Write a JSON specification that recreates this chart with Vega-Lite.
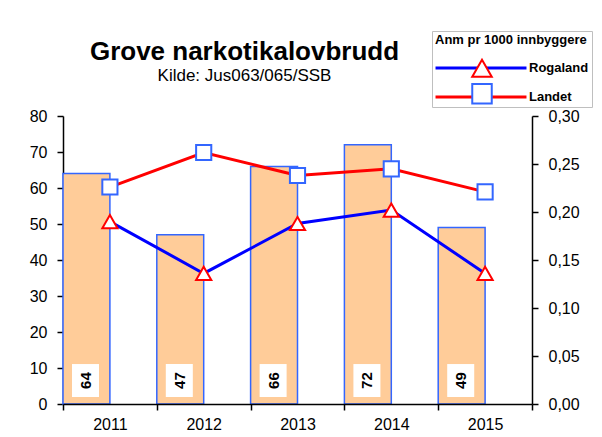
{
  "$schema": "https://vega.github.io/schema/vega-lite/v6.json",
  "width": 469,
  "height": 288,
  "autosize": {"type": "none"},
  "padding": {"left": 63, "top": 116, "right": 70, "bottom": 33},
  "background": "white",
  "title": {
    "text": "Grove narkotikalovbrudd",
    "subtitle": "Kilde: Jus063/065/SSB",
    "anchor": "middle",
    "frame": "group",
    "dx": -53,
    "offset": -53,
    "font": "Liberation Sans",
    "fontSize": 26,
    "fontWeight": "bold",
    "color": "black",
    "subtitleFont": "Liberation Sans",
    "subtitleFontSize": 17,
    "subtitleColor": "black",
    "subtitlePadding": 3
  },
  "datasets": {
    "anmeldelser": [
      {"year": "2011", "antall": 64},
      {"year": "2012", "antall": 47},
      {"year": "2013", "antall": 66},
      {"year": "2014", "antall": 72},
      {"year": "2015", "antall": 49}
    ],
    "rater": [
      {"year": "2011", "serie": "Rogaland", "rate": 0.190},
      {"year": "2012", "serie": "Rogaland", "rate": 0.136},
      {"year": "2013", "serie": "Rogaland", "rate": 0.188},
      {"year": "2014", "serie": "Rogaland", "rate": 0.202},
      {"year": "2015", "serie": "Rogaland", "rate": 0.136},
      {"year": "2011", "serie": "Landet", "rate": 0.226},
      {"year": "2012", "serie": "Landet", "rate": 0.262},
      {"year": "2013", "serie": "Landet", "rate": 0.238},
      {"year": "2014", "serie": "Landet", "rate": 0.245},
      {"year": "2015", "serie": "Landet", "rate": 0.221}
    ]
  },
  "layer": [
    {
      "data": {"name": "anmeldelser"},
      "layer": [
        {
          "mark": {"type": "rect", "fill": "#FFCC99", "stroke": "#3366FF", "strokeWidth": 1.5},
          "encoding": {
            "x": {
              "field": "year", "type": "ordinal", "bandPosition": 0,
              "scale": {"type": "band", "paddingInner": 0, "paddingOuter": 0},
              "axis": {"title": null, "labelAngle": 0, "tickBand": "extent", "labelPadding": 6}
            },
            "x2": {"field": "year", "bandPosition": 0.5},
            "y": {
              "field": "antall", "type": "quantitative",
              "scale": {"domain": [0, 80], "nice": false},
              "axis": {"title": null, "values": [0, 10, 20, 30, 40, 50, 60, 70, 80], "labelPadding": 10, "labelOverlap": false}
            },
            "y2": {"datum": 0}
          }
        },
        {
          "mark": {"type": "rect", "fill": "white"},
          "encoding": {
            "x": {"field": "year", "type": "ordinal", "bandPosition": 0.096},
            "x2": {"field": "year", "bandPosition": 0.384},
            "y": {"datum": 1.95, "type": "quantitative", "axis": {"title": null, "values": [0, 10, 20, 30, 40, 50, 60, 70, 80], "labelPadding": 10, "labelOverlap": false}},
            "y2": {"datum": 11.1}
          }
        },
        {
          "mark": {"type": "text", "angle": 270, "font": "Liberation Sans", "fontSize": 15, "fontWeight": "bold", "align": "center", "baseline": "middle", "color": "black"},
          "encoding": {
            "x": {"field": "year", "type": "ordinal", "bandPosition": 0.245},
            "y": {"datum": 6.5, "type": "quantitative", "axis": {"title": null, "values": [0, 10, 20, 30, 40, 50, 60, 70, 80], "labelPadding": 10, "labelOverlap": false}},
            "text": {"field": "antall", "type": "quantitative"}
          }
        }
      ]
    },
    {
      "data": {"name": "rater"},
      "layer": [
        {
          "mark": {"type": "line", "strokeWidth": 3},
          "encoding": {
            "x": {"field": "year", "type": "ordinal"},
            "y": {
              "field": "rate", "type": "quantitative",
              "scale": {"domain": [0, 0.3], "nice": false},
              "axis": {"orient": "right", "title": null, "values": [0, 0.05, 0.1, 0.15, 0.2, 0.25, 0.3], "labelExpr": "replace(format(datum.value, '.2f'), '.', ',')", "labelPadding": 10}
            },
            "stroke": {
              "field": "serie", "type": "nominal", "sort": "descending",
              "scale": {"range": ["#0000FF", "#FF0000"]},
              "legend": {
                "title": "Anm pr 1000 innbyggere",
                "orient": "none", "legendX": 369, "legendY": -85,
                "symbolType": "M-5,0H5", "symbolSize": 331, "symbolStrokeWidth": 3,
                "symbolOffset": 35, "labelOffset": 37,
                "titleFont": "Liberation Sans", "titleFontSize": 13, "titleFontWeight": "bold", "titleColor": "black", "titlePadding": 10, "titleAnchor": "start",
                "labelFont": "Liberation Sans", "labelFontSize": 13, "labelFontWeight": "bold", "labelColor": "black",
                "strokeColor": "#BFBFBF", "fillColor": "white", "padding": 3, "rowPadding": 11, "zindex": 1
              }
            }
          }
        },
        {
          "mark": {"type": "point", "filled": false, "fill": "white", "strokeWidth": 2, "size": 230, "opacity": 1},
          "encoding": {
            "x": {"field": "year", "type": "ordinal"},
            "y": {"field": "rate", "type": "quantitative"},
            "color": {
              "field": "serie", "type": "nominal",
              "scale": {"domain": ["Rogaland", "Landet"], "range": ["#FF0000", "#3366FF"]},
              "legend": {
                "title": null, "orient": "none", "legendX": 408, "legendY": -58.75,
                "symbolSize": 380, "symbolStrokeWidth": 2, "symbolFillColor": "white", "symbolOffset": 0,
                "labelFontSize": 13, "labelExpr": "''", "padding": 0, "rowPadding": -1.5, "zindex": 2
              }
            },
            "shape": {
              "field": "serie", "type": "nominal",
              "scale": {"domain": ["Rogaland", "Landet"], "range": ["triangle-up", "square"]},
              "legend": {
                "title": null, "orient": "none", "legendX": 408, "legendY": -58.75,
                "symbolSize": 380, "symbolStrokeWidth": 2, "symbolFillColor": "white", "symbolOffset": 0,
                "labelFontSize": 13, "labelExpr": "''", "padding": 0, "rowPadding": -1.5, "zindex": 2
              }
            }
          }
        }
      ]
    }
  ],
  "resolve": {"scale": {"y": "independent"}},
  "config": {
    "view": {"stroke": null},
    "axis": {
      "grid": false,
      "domainColor": "black", "domainWidth": 1.5,
      "tickColor": "black", "tickWidth": 1.5, "tickSize": 6,
      "labelFont": "Liberation Sans", "labelFontSize": 16, "labelColor": "black"
    }
  }
}
